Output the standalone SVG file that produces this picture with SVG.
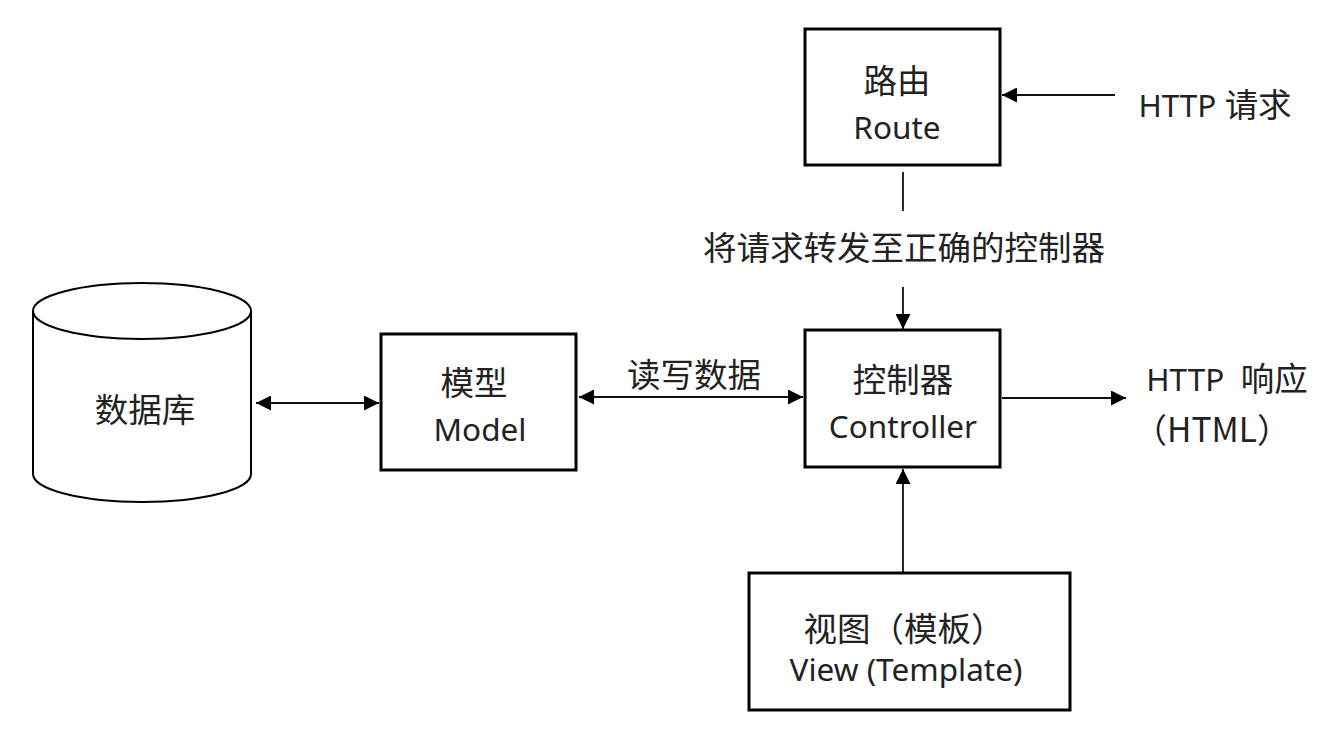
<svg xmlns="http://www.w3.org/2000/svg" width="1344" height="746" viewBox="0 0 1344 746">
<defs>
<marker id="ah" markerWidth="15" markerHeight="15" refX="14" refY="7" orient="auto-start-reverse" markerUnits="userSpaceOnUse" viewBox="0 0 14 14">
<path d="M0,0 L14,7 L0,14 z" fill="#000"/>
</marker>
<style>
.box{fill:#fff;stroke:#000;stroke-width:3}
.ln{fill:none;stroke:#111;stroke-width:1.8}
.t{font-family:"Noto Sans","Noto Sans CJK SC",sans-serif;font-size:31.5px;fill:#222;text-anchor:middle}
.c{font-family:"Noto Sans CJK SC","Noto Sans",sans-serif;font-size:33.5px;fill:#222;text-anchor:middle}
</style>
</defs>
<rect width="1344" height="746" fill="#fff"/>
<g id="connectors">
<line class="ln" x1="1115" y1="95" x2="1002" y2="95" marker-end="url(#ah)"/>
<line class="ln" x1="903" y1="172" x2="903" y2="211"/>
<line class="ln" x1="903" y1="287" x2="903" y2="329" marker-end="url(#ah)"/>
<line class="ln" x1="256" y1="403" x2="379" y2="403" marker-start="url(#ah)" marker-end="url(#ah)"/>
<line class="ln" x1="579" y1="397" x2="803" y2="397" marker-start="url(#ah)" marker-end="url(#ah)"/>
<line class="ln" x1="1002" y1="398" x2="1126" y2="398" marker-end="url(#ah)"/>
<line class="ln" x1="903" y1="572" x2="903" y2="469" marker-end="url(#ah)"/>
<text class="c" x="904" y="260">将请求转发至正确的控制器</text>
<text class="c" x="694" y="387">读写数据</text>
</g>
<g id="route">
<rect class="box" x="805" y="29" width="195" height="136"/>
<text class="c" x="897" y="93">路由</text>
<text class="t" x="897" y="139">Route</text>
</g>
<g id="http-request">
<text class="t" x="1215" y="117">HTTP <tspan style="font-family:'Noto Sans CJK SC',sans-serif;font-size:33.5px">请求</tspan></text>
</g>
<g id="controller">
<rect class="box" x="805" y="330" width="195" height="137"/>
<text class="c" x="903" y="392">控制器</text>
<text class="t" x="903" y="438">Controller</text>
</g>
<g id="model">
<rect class="box" x="381" y="334" width="195" height="136"/>
<text class="c" x="474" y="395">模型</text>
<text class="t" x="480" y="441">Model</text>
</g>
<g id="database">
<path d="M33,311 L33,474 A109,28 0 0 0 251,474 L251,311" fill="#fff" stroke="#000" stroke-width="2"/>
<ellipse cx="142" cy="311" rx="109" ry="28" fill="#fff" stroke="#000" stroke-width="2"/>
<text class="c" x="145" y="422">数据库</text>
</g>
<g id="http-response">
<text class="t" x="1227" y="391">HTTP&#160; <tspan style="font-family:'Noto Sans CJK SC',sans-serif;font-size:33.5px">响应</tspan></text>
<text class="c" x="1212" y="442">（HTML）</text>
</g>
<g id="view">
<rect class="box" x="749" y="573" width="321" height="137"/>
<text class="c" x="904" y="641">视图（模板）</text>
<text class="t" x="906" y="681">View (Template)</text>
</g>
</svg>
